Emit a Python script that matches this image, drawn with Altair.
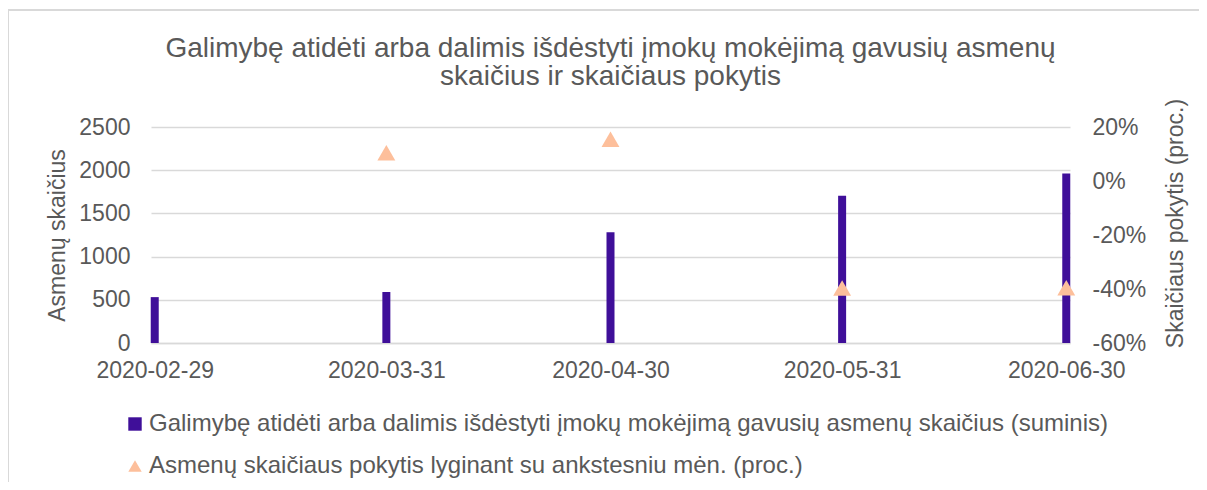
import altair as alt
import pandas as pd

# ---- data ----
dates = ["2020-02-29", "2020-03-31", "2020-04-30", "2020-05-31", "2020-06-30"]
counts = [531, 590, 1281, 1704, 1962]
change_dates = ["2020-03-31", "2020-04-30", "2020-05-31", "2020-06-30"]
change_pct = [10.5, 15.5, -39.6, -39.5]

s_bar = "Galimybę atidėti arba dalimis išdėstyti įmokų mokėjimą gavusių asmenų skaičius (suminis)"
s_pt = "Asmenų skaičiaus pokytis lyginant su ankstesniu mėn. (proc.)"
title_lines = ["Galimybę atidėti arba dalimis išdėstyti įmokų mokėjimą gavusių asmenų",
               "skaičius ir skaičiaus pokytis"]
left_ticks = [0, 500, 1000, 1500, 2000, 2500]
right_ticks = [-60, -40, -20, 0, 20]

FONT = "Liberation Sans"
TXT = "#595959"
GRID = "#d9d9d9"
PURPLE = "#3f0f99"
PEACH = "#fdbf9b"


def ms(s):
    return int(pd.Timestamp(s, tz="UTC").value // 10**6)


HALF_DAY = 12 * 3600 * 1000

bars_df = pd.DataFrame({"date": [ms(d) for d in dates], "count": counts})
pts_df = pd.DataFrame({"date": [ms(d) for d in change_dates], "pct": change_pct,
                       "series": [s_pt] * len(change_dates)})

x_scale = alt.Scale(type="utc", nice=False, padding=0,
                    domain=[ms(dates[0]) - HALF_DAY, ms(dates[-1]) + HALF_DAY])
x_axis = alt.Axis(values=[ms(d) for d in dates], labelExpr="utcFormat(datum.value, '%Y-%m-%d')",
                  title=None, grid=False, ticks=False, domain=True, domainColor=GRID, domainWidth=1.5,
                  labelFont=FONT, labelFontSize=23, labelColor=TXT, labelPadding=16, labelFlush=False)

bars = alt.Chart(bars_df).mark_bar(size=8, color=PURPLE).encode(
    x=alt.X("date:T", scale=x_scale, axis=x_axis),
    y=alt.Y("count:Q", scale=alt.Scale(domain=[0, 2500], nice=False),
            axis=alt.Axis(values=left_ticks, format="d", title="Asmenų skaičius", grid=True, gridColor=GRID,
                          gridWidth=1.5, ticks=False, domain=False, labelFont=FONT, labelFontSize=23,
                          labelColor=TXT, labelPadding=21, titleFont=FONT, titleFontSize=23,
                          titleColor=TXT, titleFontWeight="normal", titleAngle=270,
                          titleBaseline="middle", titleAlign="center", titleX=-94, titleY=108)),
)

legend = alt.Legend(title=None, orient="none", legendX=-28, legendY=285, direction="vertical",
                    symbolSize=180, symbolStrokeWidth=0, labelFont=FONT, labelFontSize=24,
                    labelColor=TXT, labelLimit=1100, rowPadding=18, labelOffset=2)

pts = alt.Chart(pts_df).mark_point(filled=True, opacity=1, size=320).encode(
    x=alt.X("date:T", scale=x_scale, axis=x_axis),
    y=alt.Y("pct:Q", scale=alt.Scale(domain=[-60, 20], nice=False),
            axis=alt.Axis(values=right_ticks, orient="right", title="Skaičiaus pokytis (proc.)",
                          labelExpr="datum.value + '%'", grid=False, ticks=False, domain=False,
                          labelFont=FONT, labelFontSize=23, labelColor=TXT, labelPadding=22,
                          titleFont=FONT, titleFontSize=23, titleColor=TXT, titleFontWeight="normal",
                          titleAngle=270, titleBaseline="middle", titleAlign="center",
                          titleX=105, titleY=96)),
    color=alt.Color("series:N", scale=alt.Scale(domain=[s_bar, s_pt], range=[PURPLE, PEACH]), legend=legend),
    shape=alt.Shape("series:N", scale=alt.Scale(domain=[s_bar, s_pt], range=["square", "triangle-up"]),
                    legend=legend),
)

frame_df = pd.DataFrame({"k": [0]})
border_left = alt.Chart(frame_df).mark_rule(color=GRID, strokeWidth=2).encode(
    x=alt.value(-143), y=alt.value(-117), y2=alt.value(400))
border_top = alt.Chart(frame_df).mark_rule(color=GRID, strokeWidth=2).encode(
    x=alt.value(-143), x2=alt.value(1200), y=alt.value(-117))

chart = alt.layer(border_left, border_top, bars, pts).resolve_scale(y="independent").properties(
    width=919, height=216,
    autosize=alt.AutoSizeParams(type="none"),
    padding={"left": 143, "top": 119, "right": 129, "bottom": 139},
    title=alt.Title(text=title_lines, font=FONT, fontSize=28, color=TXT, fontWeight="normal",
                    anchor="middle", offset=0, dy=82, lineHeight=28),
).configure_view(stroke=None)

chart.save("out.html", embed_options={"renderer": "svg", "actions": False})
